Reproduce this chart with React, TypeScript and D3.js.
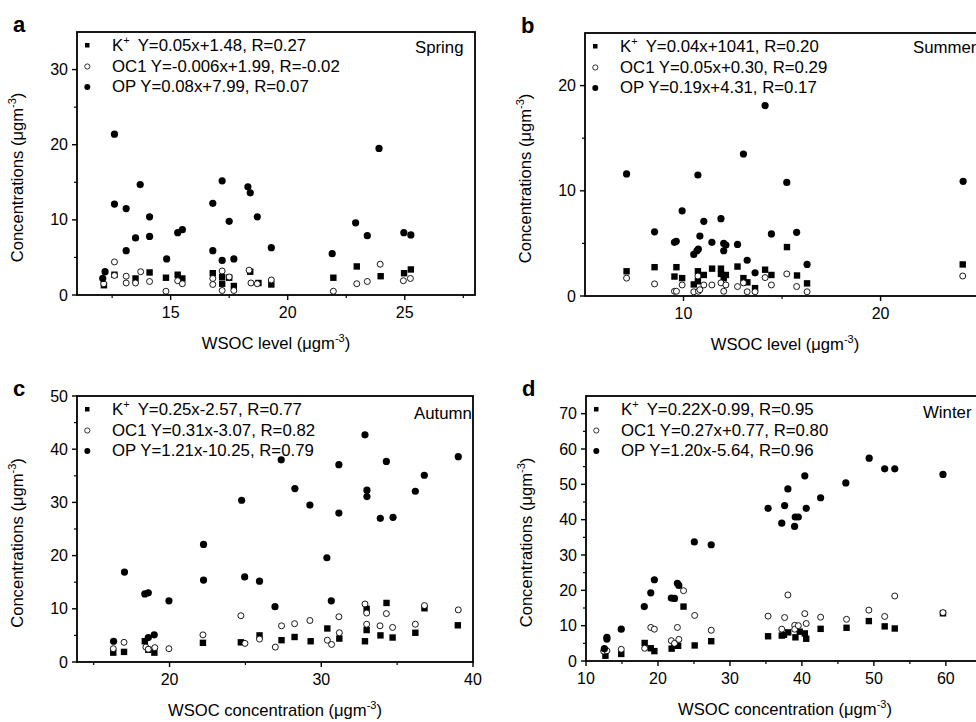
import * as d3 from 'd3';

const FONT = "'Liberation Sans', Arial, Helvetica, sans-serif";

// ---- data: [WSOC, concentration] ----
const springK = [[12.15,1.3],[12.6,2.7],[13.5,2.2],[14.1,3.0],[14.8,2.3],[15.3,2.7],[15.5,2.2],[16.8,2.9],[17.2,2.4],[17.2,1.5],[17.5,2.3],[17.7,1.2],[18.4,3.1],[18.75,1.6],[19.3,1.4],[21.95,2.3],[22.95,3.8],[23.97,2.5],[24.97,2.9],[25.26,3.4]];
const springOC = [[12.14,1.5],[12.6,4.4],[12.6,2.6],[13.1,2.5],[13.1,1.6],[13.5,1.6],[13.72,3.1],[14.1,1.8],[14.8,0.5],[15.3,1.9],[15.5,1.5],[16.8,2.2],[16.8,1.4],[17.2,3.2],[17.2,0.6],[17.5,2.4],[17.7,0.6],[18.35,3.3],[18.43,1.6],[18.7,1.5],[19.3,2.0],[21.95,0.5],[22.95,1.5],[23.4,1.8],[23.95,4.1],[24.94,1.9],[25.24,2.2]];
const springOP = [[12.1,2.2],[12.2,3.1],[12.6,21.4],[12.6,12.1],[13.1,11.5],[13.1,5.9],[13.5,7.6],[13.7,14.7],[14.1,10.4],[14.1,7.8],[14.83,4.8],[15.3,8.3],[15.5,8.7],[16.8,12.2],[16.8,5.9],[17.2,15.2],[17.2,4.6],[17.5,9.8],[17.7,4.8],[18.3,14.4],[18.4,13.6],[18.7,10.4],[19.3,6.3],[21.9,5.5],[22.9,9.6],[23.4,7.9],[23.9,19.5],[24.96,8.3],[25.26,8.0]];

const summerK = [[7.11,2.35],[8.53,2.74],[9.54,1.85],[9.64,2.74],[9.93,1.7],[10.52,1.1],[10.73,2.35],[10.73,1.4],[11.03,2.0],[11.45,2.6],[11.9,2.6],[11.9,2.1],[12.15,2.0],[12.04,1.7],[12.74,2.8],[13.04,1.7],[13.24,1.3],[13.63,0.75],[14.14,2.5],[14.46,2.0],[15.25,4.65],[15.76,1.95],[16.27,1.2],[24.17,3.0]];
const summerOC = [[7.11,1.7],[8.53,1.15],[9.54,0.45],[9.64,0.45],[9.93,1.05],[10.52,0.4],[10.73,1.9],[10.76,0.45],[10.83,0.6],[11.03,1.05],[11.44,1.05],[11.9,1.25],[12.04,0.45],[12.15,1.05],[12.74,0.9],[13.04,1.25],[13.23,0.4],[13.63,0.4],[14.14,1.75],[14.46,1.05],[15.24,2.1],[15.74,0.9],[16.27,0.4],[24.17,1.9]];
const summerOP = [[7.11,11.6],[8.53,6.1],[9.54,5.1],[9.63,5.2],[9.93,8.1],[10.52,3.95],[10.68,4.3],[10.75,4.45],[10.73,11.5],[10.83,5.7],[11.03,7.1],[11.44,5.1],[11.9,7.35],[12.04,5.0],[12.15,4.85],[12.04,4.3],[12.74,4.9],[13.04,13.5],[13.23,3.4],[13.63,2.2],[14.14,18.1],[14.46,5.9],[15.24,10.8],[15.74,6.05],[16.27,3.0],[24.19,10.9]];

const autumnK = [[16.29,1.76],[17.0,1.9],[18.37,3.9],[18.6,2.3],[19.0,1.76],[22.2,3.6],[24.7,3.7],[25.93,5.0],[27.38,4.1],[28.24,4.7],[29.3,3.9],[30.4,6.3],[31.19,4.4],[32.88,3.9],[32.99,10.0],[32.99,6.0],[33.9,5.0],[34.3,11.1],[34.7,4.6],[36.2,5.5],[36.8,10.1],[39.0,6.9]];
const autumnOC = [[16.29,2.5],[17.0,3.7],[18.44,2.8],[18.6,2.4],[19.03,2.7],[19.96,2.5],[22.2,5.1],[24.7,8.7],[24.97,3.5],[25.93,4.3],[26.97,2.8],[27.38,6.8],[28.24,7.2],[29.25,7.8],[30.4,4.1],[30.68,3.3],[31.16,8.5],[31.19,5.5],[32.88,10.9],[32.99,9.2],[32.99,7.1],[33.87,6.8],[34.29,9.1],[34.7,6.5],[36.2,7.1],[36.8,10.6],[39.03,9.8]];
const autumnOP = [[16.31,3.9],[17.03,16.9],[18.37,12.8],[18.6,13.0],[18.6,4.6],[18.99,5.1],[19.96,11.5],[22.24,22.1],[22.24,15.4],[24.75,30.4],[24.95,16.0],[25.93,15.2],[26.95,10.4],[27.36,38.0],[28.26,32.6],[29.25,29.5],[30.37,19.6],[30.66,11.5],[31.16,37.1],[31.16,28.0],[32.88,42.7],[33.01,32.3],[33.01,31.1],[33.89,27.0],[34.29,37.7],[34.73,27.2],[36.2,32.1],[36.79,35.1],[39.03,38.6]];

const winterK = [[12.7,1.5],[14.9,2.0],[18.15,5.1],[19.0,3.6],[19.5,2.8],[21.9,3.5],[22.3,4.5],[22.8,4.3],[23.55,15.4],[25.1,4.4],[27.4,5.6],[35.3,7.0],[37.2,7.2],[37.5,7.4],[38.1,8.1],[39.1,6.7],[39.7,8.3],[40.4,7.8],[40.6,6.3],[42.6,9.1],[46.2,9.4],[49.3,11.3],[51.5,9.8],[52.9,9.2],[59.6,13.5]];
const winterOC = [[12.45,2.8],[12.9,2.9],[14.9,3.3],[18.15,3.6],[19.0,9.5],[19.5,9.0],[21.85,5.75],[22.3,5.0],[22.9,6.1],[22.7,9.5],[23.55,19.9],[25.1,12.9],[27.4,8.7],[35.3,12.7],[37.2,9.0],[37.6,12.3],[38.05,18.7],[39.0,10.1],[39.0,9.0],[39.5,10.0],[40.4,13.4],[40.6,10.6],[42.6,12.4],[46.2,11.8],[49.3,14.4],[51.5,12.6],[52.9,18.4],[59.6,13.7]];
const winterOP = [[12.55,3.5],[12.9,6.2],[12.9,6.7],[14.9,9.0],[18.1,15.4],[19.0,19.3],[19.5,23.0],[21.85,17.8],[22.3,17.7],[22.7,22.0],[22.9,21.4],[25.05,33.7],[27.4,32.9],[35.3,43.2],[37.2,39.0],[37.6,44.0],[38.05,48.7],[38.98,38.1],[39.07,40.75],[39.5,40.75],[40.4,52.4],[40.6,43.2],[42.6,46.2],[46.1,50.4],[49.35,57.4],[51.5,54.4],[52.9,54.4],[59.6,52.8]];

const springLegend = ['Y=0.05x+1.48, R=0.27', 'OC1 Y=-0.006x+1.99, R=-0.02', 'OP Y=0.08x+7.99, R=0.07'];
const summerLegend = ['Y=0.04x+1041, R=0.20', 'OC1 Y=0.05x+0.30, R=0.29', 'OP Y=0.19x+4.31, R=0.17'];
const autumnLegend = ['Y=0.25x-2.57, R=0.77', 'OC1 Y=0.31x-3.07, R=0.82', 'OP Y=1.21x-10.25, R=0.79'];
const winterLegend = ['Y=0.22X-0.99, R=0.95', 'OC1 Y=0.27x+0.77, R=0.80', 'OP Y=1.20x-5.64, R=0.96'];

type Pt = number[];

function Panel(props: any) {
  const { left, top, right, bottom, xDomain, yDomain, xMajor, xMinor, yMajor, yMinor,
    k, oc, op, legend, season, seasonX, seasonDy, letter, xLabel } = props;
  const x = d3.scaleLinear().domain(xDomain).range([left, right]);
  const y = d3.scaleLinear().domain(yDomain).range([bottom, top]);
  const midY = (top + bottom) / 2 + 14;
  const midX = (left + right) / 2;
  const sq = 6.4;
  const fs = 16.8;

  return (
    <g fontFamily={FONT} fill="#000">
      <text x={left - 64} y={top} fontSize={22} fontWeight="bold">{letter}</text>

      {/* ticks */}
      {xMajor.map((t: number) => (
        <g key={'xM' + t}>
          <line x1={x(t)} x2={x(t)} y1={bottom} y2={bottom + 5} stroke="#000" strokeWidth={1.4} />
          <text x={x(t)} y={bottom + 23} fontSize={16} textAnchor="middle">{t}</text>
        </g>
      ))}
      {xMinor.map((t: number) => (
        <line key={'xm' + t} x1={x(t)} x2={x(t)} y1={bottom} y2={bottom + 3} stroke="#000" strokeWidth={1.2} />
      ))}
      {yMajor.map((t: number) => (
        <g key={'yM' + t}>
          <line x1={left - 5} x2={left} y1={y(t)} y2={y(t)} stroke="#000" strokeWidth={1.4} />
          <text x={left - 9} y={y(t) + 5.5} fontSize={16} textAnchor="end">{t}</text>
        </g>
      ))}
      {yMinor.map((t: number) => (
        <line key={'ym' + t} x1={left - 3} x2={left} y1={y(t)} y2={y(t)} stroke="#000" strokeWidth={1.2} />
      ))}

      {/* points */}
      {k.map((d: Pt, i: number) => (
        <rect key={'k' + i} x={x(d[0]) - sq / 2} y={y(d[1]) - sq / 2} width={sq} height={sq} fill="#000" />
      ))}
      {oc.map((d: Pt, i: number) => (
        <circle key={'o' + i} cx={x(d[0])} cy={y(d[1])} r={3} fill="#fff" stroke="#000" strokeWidth={0.9} />
      ))}
      {op.map((d: Pt, i: number) => (
        <circle key={'p' + i} cx={x(d[0])} cy={y(d[1])} r={3.6} fill="#000" />
      ))}

      <rect x={left} y={top} width={right - left} height={bottom - top} fill="none" stroke="#000" strokeWidth={1.8} />

      {/* legend */}
      <rect x={left + 8} y={top + 11} width={4.5} height={4.5} fill="#000" />
      <circle cx={left + 10.3} cy={top + 34.5} r={2.6} fill="#fff" stroke="#000" strokeWidth={0.8} />
      <circle cx={left + 10.3} cy={top + 55} r={3} fill="#000" />
      <text x={left + 35} y={top + 19} fontSize={fs}>
        K<tspan fontSize={11} dy={-7}>+</tspan><tspan dx={8} dy={7}>{legend[0]}</tspan>
      </text>
      <text x={left + 35} y={top + 39.5} fontSize={fs}>{legend[1]}</text>
      <text x={left + 35} y={top + 60} fontSize={fs}>{legend[2]}</text>
      <text x={left + seasonX} y={top + seasonDy} fontSize={fs}>{season}</text>

      {/* axis titles */}
      <text x={midX} y={bottom + 54} fontSize={16.6} textAnchor="middle">
        {xLabel} (μgm<tspan fontSize={11} dy={-7}>-3</tspan><tspan dy={7}>)</tspan>
      </text>
      <text transform={`translate(${left - 54},${midY}) rotate(-90)`} fontSize={16.6} textAnchor="middle">
        Concentrations (μgm<tspan fontSize={11} dy={-7}>-3</tspan><tspan dy={7}>)</tspan>
      </text>
    </g>
  );
}

export default function App() {
  return (
    <svg width={976} height={722} style={{ display: 'block', position: 'absolute', left: 0, top: 0, background: '#fff' }}>
      <rect width={976} height={722} fill="#fff" />
      <Panel left={77} top={32} right={475} bottom={295} xDomain={[11, 28]} yDomain={[0, 35]}
        xMajor={[15, 20, 25]} xMinor={[12.5, 17.5, 22.5, 27.5]} yMajor={[0, 10, 20, 30]} yMinor={[5, 15, 25]}
        k={springK} oc={springOC} op={springOP} legend={springLegend}
        season="Spring" seasonX={338} seasonDy={21} letter="a" xLabel="WSOC level" />
      <Panel left={585} top={33} right={985} bottom={296} xDomain={[5, 25.3]} yDomain={[0, 25]}
        xMajor={[10, 20]} xMinor={[15]} yMajor={[0, 10, 20]} yMinor={[5, 15]}
        k={summerK} oc={summerOC} op={summerOP} legend={summerLegend}
        season="Summer" seasonX={328} seasonDy={20} letter="b" xLabel="WSOC level" />
      <Panel left={77} top={396} right={473} bottom={662} xDomain={[13.9, 40]} yDomain={[0, 50]}
        xMajor={[20, 30, 40]} xMinor={[15, 25, 35]} yMajor={[0, 10, 20, 30, 40, 50]} yMinor={[5, 15, 25, 35, 45]}
        k={autumnK} oc={autumnOC} op={autumnOP} legend={autumnLegend}
        season="Autumn" seasonX={337} seasonDy={23} letter="c" xLabel="WSOC concentration" />
      <Panel left={586} top={396} right={984} bottom={661} xDomain={[10, 65.3]} yDomain={[0, 75]}
        xMajor={[10, 20, 30, 40, 50, 60]} xMinor={[15, 25, 35, 45, 55, 65]} yMajor={[0, 10, 20, 30, 40, 50, 60, 70]} yMinor={[5, 15, 25, 35, 45, 55, 65]}
        k={winterK} oc={winterOC} op={winterOP} legend={winterLegend}
        season="Winter" seasonX={337} seasonDy={22} letter="d" xLabel="WSOC concentration" />
    </svg>
  );
}
